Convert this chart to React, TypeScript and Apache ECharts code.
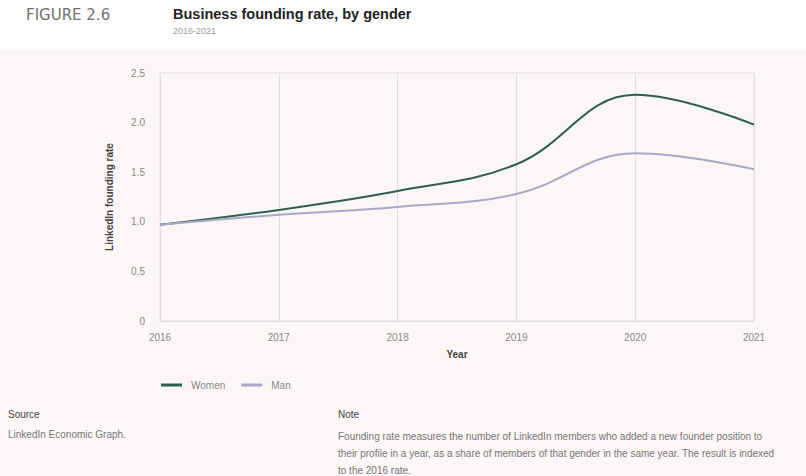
import React, { useEffect, useRef } from "react";
import * as echarts from "echarts";

const years = ["2016", "2017", "2018", "2019", "2020", "2021"];
const women = [0.97, 1.12, 1.31, 1.58, 2.28, 1.98];
const men = [0.97, 1.07, 1.15, 1.28, 1.69, 1.53];
const yTicks = [0, 0.5, 1.0, 1.5, 2.0, 2.5];

const FONT = "'Liberation Sans', Arial, sans-serif";

export default function App() {
  const ref = useRef<HTMLDivElement>(null);
  useEffect(() => {
    document.body.style.margin = "0";
    const chart = echarts.init(ref.current!, null, { renderer: "svg" });
    chart.setOption({
      animation: false,
      backgroundColor: "#ffffff",
      textStyle: { fontFamily: FONT },
      graphic: [
        { type: "rect", z: -10, shape: { x: 0, y: 50, width: 806, height: 426 }, style: { fill: "#fcf6f6" } },
        { type: "text", left: 26, top: 7, style: { text: "FIGURE 2.6", fontSize: 15, fontFamily: "'DejaVu Sans', sans-serif", fill: "#707070" } },
        { type: "text", left: 173, top: 6, style: { text: "Business founding rate, by gender", fontSize: 14.5, fontWeight: "bold", fill: "#222222", fontFamily: FONT } },
        { type: "text", left: 173, top: 26, style: { text: "2016-2021", fontSize: 9, fill: "#999999", fontFamily: FONT } },
        { type: "text", left: 8, top: 409, style: { text: "Source", fontSize: 10, fill: "#444444", fontFamily: FONT } },
        { type: "text", left: 8, top: 429, style: { text: "LinkedIn Economic Graph.", fontSize: 10, fill: "#777777", fontFamily: FONT } },
        { type: "text", left: 338, top: 409, style: { text: "Note", fontSize: 10, fill: "#444444", fontFamily: FONT } },
        {
          type: "text",
          left: 338,
          top: 428,
          style: {
            text:
              "Founding rate measures the number of LinkedIn members who added a new founder position to\ntheir profile in a year, as a share of members of that gender in the same year. The result is indexed\nto the 2016 rate.",
            fontSize: 10,
            lineHeight: 17,
            fill: "#777777",
            fontFamily: FONT,
          },
        },
      ],
      grid: {
        left: 160,
        right: 52,
        top: 73,
        bottom: 155,
        show: true,
        borderColor: "#e4dddd",
        borderWidth: 1,
        backgroundColor: "transparent",
      },
      legend: {
        left: 156,
        top: 375,
        icon: "rect",
        itemWidth: 21,
        itemHeight: 3,
        itemGap: 16,
        textStyle: { fontSize: 10, color: "#888888", fontFamily: FONT, padding: [0, 0, 0, 4] },
        data: ["Women", "Man"],
      },
      xAxis: {
        type: "category",
        data: years,
        boundaryGap: false,
        name: "Year",
        nameLocation: "middle",
        nameGap: 28,
        nameTextStyle: { fontSize: 10, fontWeight: "bold", color: "#444444" },
        axisLine: { show: true, lineStyle: { color: "#e4dddd" } },
        axisTick: { show: false },
        axisLabel: { fontSize: 10, color: "#888888", margin: 11 },
        splitLine: { show: true, lineStyle: { color: "#e4dddd" } },
      },
      yAxis: {
        type: "value",
        min: 0,
        max: 2.5,
        interval: 0.5,
        name: "LinkedIn founding rate",
        nameLocation: "middle",
        nameGap: 46,
        nameTextStyle: { fontSize: 10, fontWeight: "bold", color: "#444444" },
        axisLine: { show: false },
        axisTick: { show: false },
        splitLine: { show: false },
        axisLabel: {
          fontSize: 10,
          color: "#888888",
          margin: 15,
          formatter: (v: number) => (yTicks.includes(v) ? (v === 0 ? "0" : v.toFixed(1)) : ""),
        },
      },
      series: [
        {
          name: "Women",
          type: "line",
          data: women,
          smooth: 0.4,
          symbol: "none",
          lineStyle: { color: "#2f604e", width: 2 },
          itemStyle: { color: "#2f604e" },
        },
        {
          name: "Man",
          type: "line",
          data: men,
          smooth: 0.4,
          symbol: "none",
          lineStyle: { color: "#a9a9c6", width: 2 },
          itemStyle: { color: "#a9a9c6" },
        },
      ],
    });
    return () => chart.dispose();
  }, []);
  return <div ref={ref} style={{ position: "absolute", left: 0, top: 0, width: 806, height: 476 }} />;
}
